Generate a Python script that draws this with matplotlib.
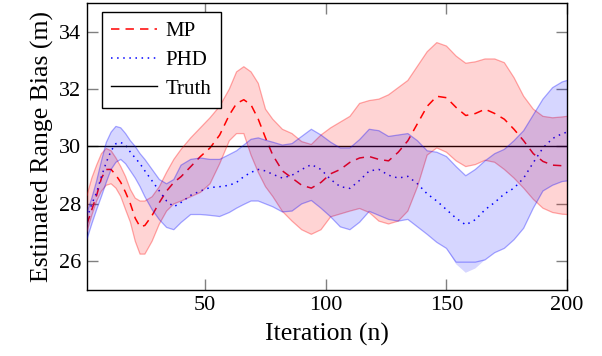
import numpy as np
import matplotlib.pyplot as plt

plt.rcParams['font.family'] = ['Liberation Serif', 'DejaVu Serif']

## Data (iteration, bias in m)
iters = [1, 3, 5, 7, 9, 11, 13, 15, 17, 19, 21, 23, 25, 28, 31, 34, 37, 40, 44, 48,
         52, 56, 60, 63, 66, 69, 72, 75, 78, 82, 86, 90, 94, 98, 102, 106, 110, 114, 118, 122,
         126, 130, 134, 138, 142, 146, 150, 154, 158, 162, 166, 170, 174, 178, 182, 186, 190, 194, 198, 200]

mp_mean = [27.3, 27.8, 28.3, 28.9, 29.2, 29.2, 29.0, 28.75, 28.4, 28.0, 27.5, 27.2, 27.25, 27.6, 28.05, 28.45, 28.75, 28.95, 29.3, 29.65,
           29.95, 30.4, 31.1, 31.5, 31.63, 31.45, 30.95, 30.3, 29.7, 29.15, 28.9, 28.65, 28.55, 28.75, 29.05, 29.2, 29.45, 29.6, 29.65, 29.55,
           29.5, 29.8, 30.2, 30.8, 31.4, 31.75, 31.7, 31.36, 31.08, 31.15, 31.3, 31.15, 30.95, 30.6, 30.2, 29.75, 29.48, 29.35, 29.33, 29.33]
mp_hi = [28.3, 28.9, 29.35, 29.75, 29.93, 29.85, 29.6, 29.3, 28.95, 28.5, 28.2, 28.1, 28.1, 28.25, 28.6, 29.1, 29.55, 29.9, 30.3, 30.65,
         31.0, 31.4, 32.0, 32.6, 32.78, 32.6, 32.2, 31.3, 30.95, 30.6, 30.45, 30.17, 30.07, 30.4, 30.65, 30.85, 31.05, 31.5, 31.6, 31.65,
         31.8, 32.05, 32.3, 32.8, 33.3, 33.62, 33.5, 33.15, 32.9, 32.95, 33.05, 33.05, 32.92, 32.4, 31.75, 31.3, 31.05, 31.0, 31.03, 31.05]
mp_lo = [27.04, 27.6, 28.1, 28.45, 28.65, 28.7, 28.55, 28.26, 27.8, 27.36, 26.7, 26.25, 26.25, 26.7, 27.3, 27.75, 28.0, 28.1, 28.25, 28.4,
         28.7, 29.4, 30.2, 30.45, 30.45, 29.7, 29.1, 28.6, 28.26, 27.74, 27.4, 27.1, 26.94, 27.1, 27.55, 27.65, 27.75, 27.84, 27.7, 27.4,
         27.3, 27.4, 27.75, 28.6, 29.7, 29.95, 29.8, 29.5, 29.3, 29.37, 29.52, 29.45, 29.2, 28.9, 28.55, 28.16, 27.85, 27.7, 27.64, 27.63]

phd_mean = [27.5, 28.0, 28.4, 28.96, 29.45, 29.85, 30.1, 30.14, 30.05, 29.8, 29.6, 29.4, 29.15, 28.8, 28.45, 28.1, 27.9, 28.05, 28.3, 28.45,
            28.57, 28.6, 28.65, 28.75, 28.95, 29.1, 29.2, 29.15, 29.03, 28.9, 29.0, 29.2, 29.37, 29.2, 28.85, 28.6, 28.54, 28.82, 29.15, 29.2,
            29.0, 28.9, 28.96, 28.7, 28.35, 28.1, 27.8, 27.5, 27.27, 27.45, 27.8, 28.05, 28.35, 28.55, 28.9, 29.44, 29.95, 30.28, 30.45, 30.5]
phd_hi = [27.7, 28.2, 28.8, 29.5, 30.14, 30.5, 30.7, 30.65, 30.45, 30.2, 30.0, 29.75, 29.55, 29.2, 28.85, 28.7, 28.85, 29.35, 29.55, 29.6,
          29.55, 29.55, 29.72, 29.85, 30.05, 30.25, 30.3, 30.22, 30.15, 30.05, 30.1, 30.35, 30.6, 30.4, 30.15, 29.95, 29.95, 30.24, 30.6, 30.55,
          30.35, 30.4, 30.45, 30.2, 29.85, 29.8, 29.65, 29.3, 28.98, 29.2, 29.5, 29.75, 29.9, 30.2, 30.55, 31.1, 31.65, 32.05, 32.25, 32.3]
phd_lo = [26.77, 27.3, 27.8, 28.26, 28.75, 29.2, 29.45, 29.55, 29.4, 29.15, 28.9, 28.6, 28.25, 27.8, 27.45, 27.18, 27.1, 27.35, 27.63, 27.63,
          27.6, 27.56, 27.7, 27.85, 27.98, 28.1, 28.1, 28.0, 27.9, 27.72, 27.75, 28.0, 28.12, 27.85, 27.55, 27.2, 27.1, 27.36, 27.74, 27.6,
          27.46, 27.4, 27.46, 27.2, 26.94, 26.66, 26.45, 25.9, 25.6, 25.75, 26.05, 26.3, 26.45, 26.75, 27.15, 27.85, 28.45, 28.65, 28.78, 28.8]

truth = 30.0

fig = plt.figure(figsize=(6.02, 3.56), dpi=100)
ax = fig.add_axes([0.1445, 0.1854, 0.7975, 0.8062])

ax.plot(iters, mp_mean, color='red', linestyle=(0, (5.5, 4)), linewidth=1.1, label='MP', zorder=2)
ax.plot(iters, phd_mean, color='blue', linestyle=(0, (1, 3)), linewidth=1.1, label='PHD', zorder=2)
ax.axhline(truth, color='black', linewidth=1.0, label='Truth', zorder=2)

# shaded spreads, drawn over the lines like the original
ax.fill_between(iters, mp_lo, mp_hi, facecolor='red', alpha=0.17, linewidth=0, zorder=3)
ax.plot(iters, mp_lo, color='red', alpha=0.33, linewidth=0.9, zorder=3)
ax.plot(iters, mp_hi, color='red', alpha=0.33, linewidth=0.9, zorder=3)
ax.fill_between(iters, phd_lo, phd_hi, facecolor='blue', alpha=0.16, linewidth=0, zorder=3)
ax.plot(iters, np.maximum(phd_lo, 25.97), color='blue', alpha=0.33, linewidth=0.9, zorder=3)
ax.plot(iters, phd_hi, color='blue', alpha=0.33, linewidth=0.9, zorder=3)

ax.set_xlim(1, 200)
ax.set_ylim(25, 35)
ax.set_xticks([50, 100, 150, 200])
ax.set_yticks([26, 28, 30, 32, 34])
ax.tick_params(direction='in', length=8, width=1, color='grey', labelsize=16,
               top=True, right=True, pad=4)
for s in ax.spines.values():
    s.set_linewidth(1.0)

ax.set_xlabel('Iteration (n)', fontsize=18.5, labelpad=6)
ax.set_ylabel('Estimated Range Bias (m)', fontsize=18.5, labelpad=4)

leg = ax.legend(loc='upper left', bbox_to_anchor=(0.031, 0.969), borderaxespad=0,
                fontsize=15, fancybox=False, edgecolor='black', framealpha=1,
                handlelength=2.2, handletextpad=0.4, borderpad=0.45, labelspacing=0.45)
leg.get_frame().set_linewidth(1.0)

plt.savefig('out.png')
